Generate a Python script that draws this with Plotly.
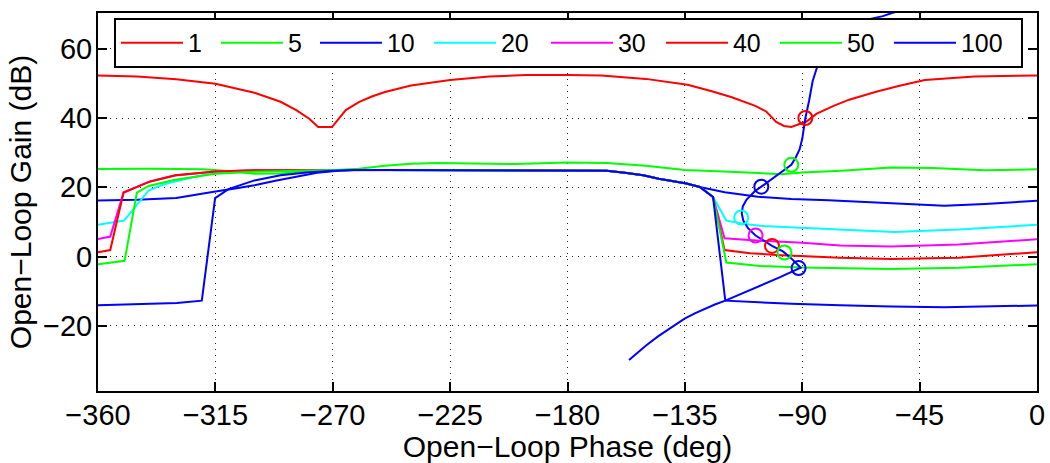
import plotly.graph_objects as go

# ---------------- data ----------------
series_names = ["1", "5", "10", "20", "30", "40", "50", "100"]
series_colors = ["#ff0000", "#00ff00", "#0000ff", "#00ffff",
                 "#ff00ff", "#ff0000", "#00ff00", "#0000ff"]

# shared middle part (phase, gain) of series 10 ... 100
common_phase = [-262, -250, -230, -200, -180, -172, -165, -158, -151, -145, -140, -134.4, -129.3]
common_gain = [25.0, 25.0, 25.0, 25.0, 25.0, 25.0, 24.8, 24.2, 23.5, 22.5, 21.8, 21.1, 20.1]

s1_phase = [-360, -345, -330, -315, -300, -290, -284, -279, -275.6, -270.3, -265, -260,
            -255, -250, -240, -225, -210, -196, -180, -167, -150, -134, -125, -117,
            -108, -103.8, -100, -97, -94.2, -88.4, -84.6, -78, -72, -62, -52.7, -43, -24, 0]
s1_gain = [52.3, 52.0, 51.2, 49.9, 47.3, 44.7, 42.3, 39.8, 37.4, 37.4, 42.3, 44.6,
           46.2, 47.5, 49.4, 51.0, 52.0, 52.4, 52.4, 52.3, 51.3, 49.6, 47.8, 46.0,
           43.5, 41.9, 38.9, 37.7, 37.4, 39.0, 41.2, 43.5, 45.3, 47.5, 49.3, 51.0, 52.0, 52.3]

s5_phase = [-360, -340, -320, -310, -300, -290, -280, -270, -260, -250, -240, -230,
            -215, -200, -180, -165, -150, -135, -120, -105, -98, -90, -75, -56, -40, -20, 0]
s5_gain = [25.3, 25.4, 25.2, 24.7, 23.9, 24.0, 24.6, 24.9, 25.4, 26.2, 26.8, 27.0,
           26.9, 26.7, 27.2, 27.0, 26.2, 25.0, 24.6, 24.0, 23.8, 24.3, 24.8, 25.7, 25.6, 24.9, 25.2]

s10_left_phase = [-360, -345, -330, -322, -315, -308, -300, -292, -284, -276, -269]
s10_left_gain = [16.2, 16.4, 16.9, 17.8, 18.8, 19.6, 20.6, 21.9, 23.1, 24.2, 24.7]
s10_right_phase = [-119.7, -107, -94.2, -80, -68.7, -56, -45, -35.5, -20, 0]
s10_right_gain = [18.6, 17.3, 16.6, 16.3, 15.9, 15.4, 15.0, 14.7, 15.2, 16.1]

s20_left_phase = [-360, -350, -340.6, -335, -330.4, -322, -315, -300, -285, -270]
s20_left_gain = [9.2, 10.4, 19.1, 20.8, 21.7, 23.2, 24.1, 24.7, 24.9, 25.0]
s20_right_phase = [-124.2, -119.1, -112, -106.2, -90, -75.5, -54.6, -30, 0]
s20_right_gain = [17.2, 10.4, 9.4, 8.9, 8.3, 7.7, 7.1, 7.8, 9.2]

s30_left_phase = [-360, -355.3, -350.2, -344.5, -340, -330.4, -315, -300, -270]
s30_left_gain = [5.1, 5.8, 18.5, 20.4, 21.7, 23.4, 24.6, 24.9, 25.0]
s30_right_phase = [-124.2, -119.8, -106.2, -90, -75.5, -55.9, -30, 0]
s30_right_gain = [17.2, 5.3, 4.6, 4.0, 3.2, 2.9, 3.5, 5.0]

s40_left_phase = [-360, -355.3, -350.2, -344.5, -340, -330.4, -315, -300, -270]
s40_left_gain = [1.3, 1.9, 18.5, 20.4, 21.7, 23.5, 24.6, 24.9, 25.0]
s40_right_phase = [-124.2, -119.8, -110, -100, -75.5, -55.9, -30, 0]
s40_right_gain = [17.2, 1.9, 1.0, 0.5, -0.3, -0.65, -0.3, 1.3]

s50_left_phase = [-360, -349.8, -345.1, -340.6, -330.4, -315, -300, -285, -270]
s50_left_gain = [-2.2, -1.2, 18.5, 20.4, 22.2, 23.9, 24.5, 24.8, 25.0]
s50_right_phase = [-124.2, -119.1, -106.2, -90, -75.5, -55.9, -30, 0]
s50_right_gain = [17.2, -1.7, -2.7, -3.1, -3.3, -3.6, -3.2, -2.2]

s100_left_phase = [-360, -345, -329.7, -320.2, -315.1, -310, -300, -290, -280, -270]
s100_left_gain = [-14.0, -13.8, -13.4, -12.7, 16.9, 19.5, 22.0, 23.5, 24.3, 24.8]
s100_right_phase = [-124.2, -119.5, -94.2, -75.5, -55.9, -35.5, 0]
s100_right_gain = [17.2, -12.7, -13.6, -14.0, -14.4, -14.6, -14.1]

locus_phase = [-156.4, -153, -150, -145.3, -140, -135.1, -131, -127.4, -123.5, -119.5,
               -105, -98.7, -90.6,
               -92.5, -94.2, -97.4, -101.6, -105.1, -107.9, -110.8, -112.6, -113.2, -112.8,
               -111.4, -108.3, -105.7, -101.3, -96.8, -94.2, -92.5, -91.0, -90.0, -88.8,
               -87.4, -86.0, -84.6, -83, -80.5, -77, -72, -66, -59.1, -55.3, -50]
locus_gain = [-29.8, -27.6, -25.7, -23.0, -20.3, -17.9, -16.3, -15.0, -13.8, -12.7,
              -8.1, -6.0, -3.2,
              -1.8, -0.5, 1.5, 3.1, 4.8, 6.1, 8.2, 10.4, 12.5, 14.5,
              16.4, 18.8, 20.2, 22.6, 25.1, 26.5, 28.6, 31.0, 34.0, 40.0,
              44.9, 50.7, 54.0, 57.5, 61.0, 64.0, 66.5, 68.2, 69.4, 70.4, 71.4]

marker_phase = [-88.8, -94.2, -105.7, -113.4, -107.9, -101.6, -96.8, -91.4]
marker_gain = [40.0, 26.5, 20.2, 11.3, 6.1, 3.1, 1.2, -3.3]

x_ticks = [-360, -315, -270, -225, -180, -135, -90, -45, 0]
y_ticks = [-20, 0, 20, 40, 60]
x_title = "Open\u2212Loop Phase (deg)"
y_title = "Open\u2212Loop Gain (dB)"

# ---------------- build series ----------------
series = [
    (s1_phase, s1_gain),
    (s5_phase, s5_gain),
    (s10_left_phase + common_phase + s10_right_phase, s10_left_gain + common_gain + s10_right_gain),
    (s20_left_phase + common_phase + s20_right_phase, s20_left_gain + common_gain + s20_right_gain),
    (s30_left_phase + common_phase + s30_right_phase, s30_left_gain + common_gain + s30_right_gain),
    (s40_left_phase + common_phase + s40_right_phase, s40_left_gain + common_gain + s40_right_gain),
    (s50_left_phase + common_phase + s50_right_phase, s50_left_gain + common_gain + s50_right_gain),
    (s100_left_phase + common_phase + s100_right_phase, s100_left_gain + common_gain + s100_right_gain),
]

legend_widths = [23, 22, 37, 40, 38, 37, 37, 55]
FONT = "Liberation Sans, Arial, Helvetica, sans-serif"
LW = 2

fig = go.Figure()
for (px, gy), name, col, lwid in zip(series, series_names, series_colors, legend_widths):
    fig.add_trace(go.Scatter(x=px, y=gy, mode="lines", name=name,
                             line=dict(color=col, width=LW), legendwidth=lwid))

fig.add_trace(go.Scatter(x=locus_phase, y=locus_gain, mode="lines", showlegend=False,
                         line=dict(color="#0000ff", width=LW)))
fig.add_trace(go.Scatter(x=marker_phase, y=marker_gain, mode="markers", showlegend=False,
                         marker=dict(symbol="circle-open", size=14, color=series_colors,
                                     line=dict(width=2, color=series_colors))))

axis_common = dict(showline=True, linecolor="black", linewidth=2, mirror="ticks",
                   ticks="inside", ticklen=9, tickwidth=2, tickcolor="black",
                   showgrid=True, gridcolor="#222222", gridwidth=1, griddash="1px,5px",
                   zeroline=False, automargin=False,
                   tickfont=dict(family=FONT, size=29, color="black"))

fig.update_xaxes(range=[-360, 0], tickvals=x_ticks, ticklabelstandoff=-3,
                 title=dict(text=x_title, font=dict(family=FONT, size=30, color="black"), standoff=4),
                 **axis_common)
fig.update_yaxes(range=[-38.77, 70.31], tickvals=y_ticks, ticklabelstandoff=-2,
                 title=dict(text=y_title, font=dict(family=FONT, size=30, color="black"), standoff=2),
                 **axis_common)

fig.update_layout(
    width=1050, height=463,
    margin=dict(l=98, r=13, t=13, b=72),
    paper_bgcolor="white", plot_bgcolor="white",
    font=dict(family=FONT, size=25, color="black"),
    legend=dict(orientation="h", x=0.0170, y=0.987, xanchor="left", yanchor="top",
                bgcolor="white", bordercolor="black", borderwidth=2,
                font=dict(family=FONT, size=25, color="black"),
                itemwidth=62, itemclick=False),
    showlegend=True,
)

fig.write_html("out.html")
